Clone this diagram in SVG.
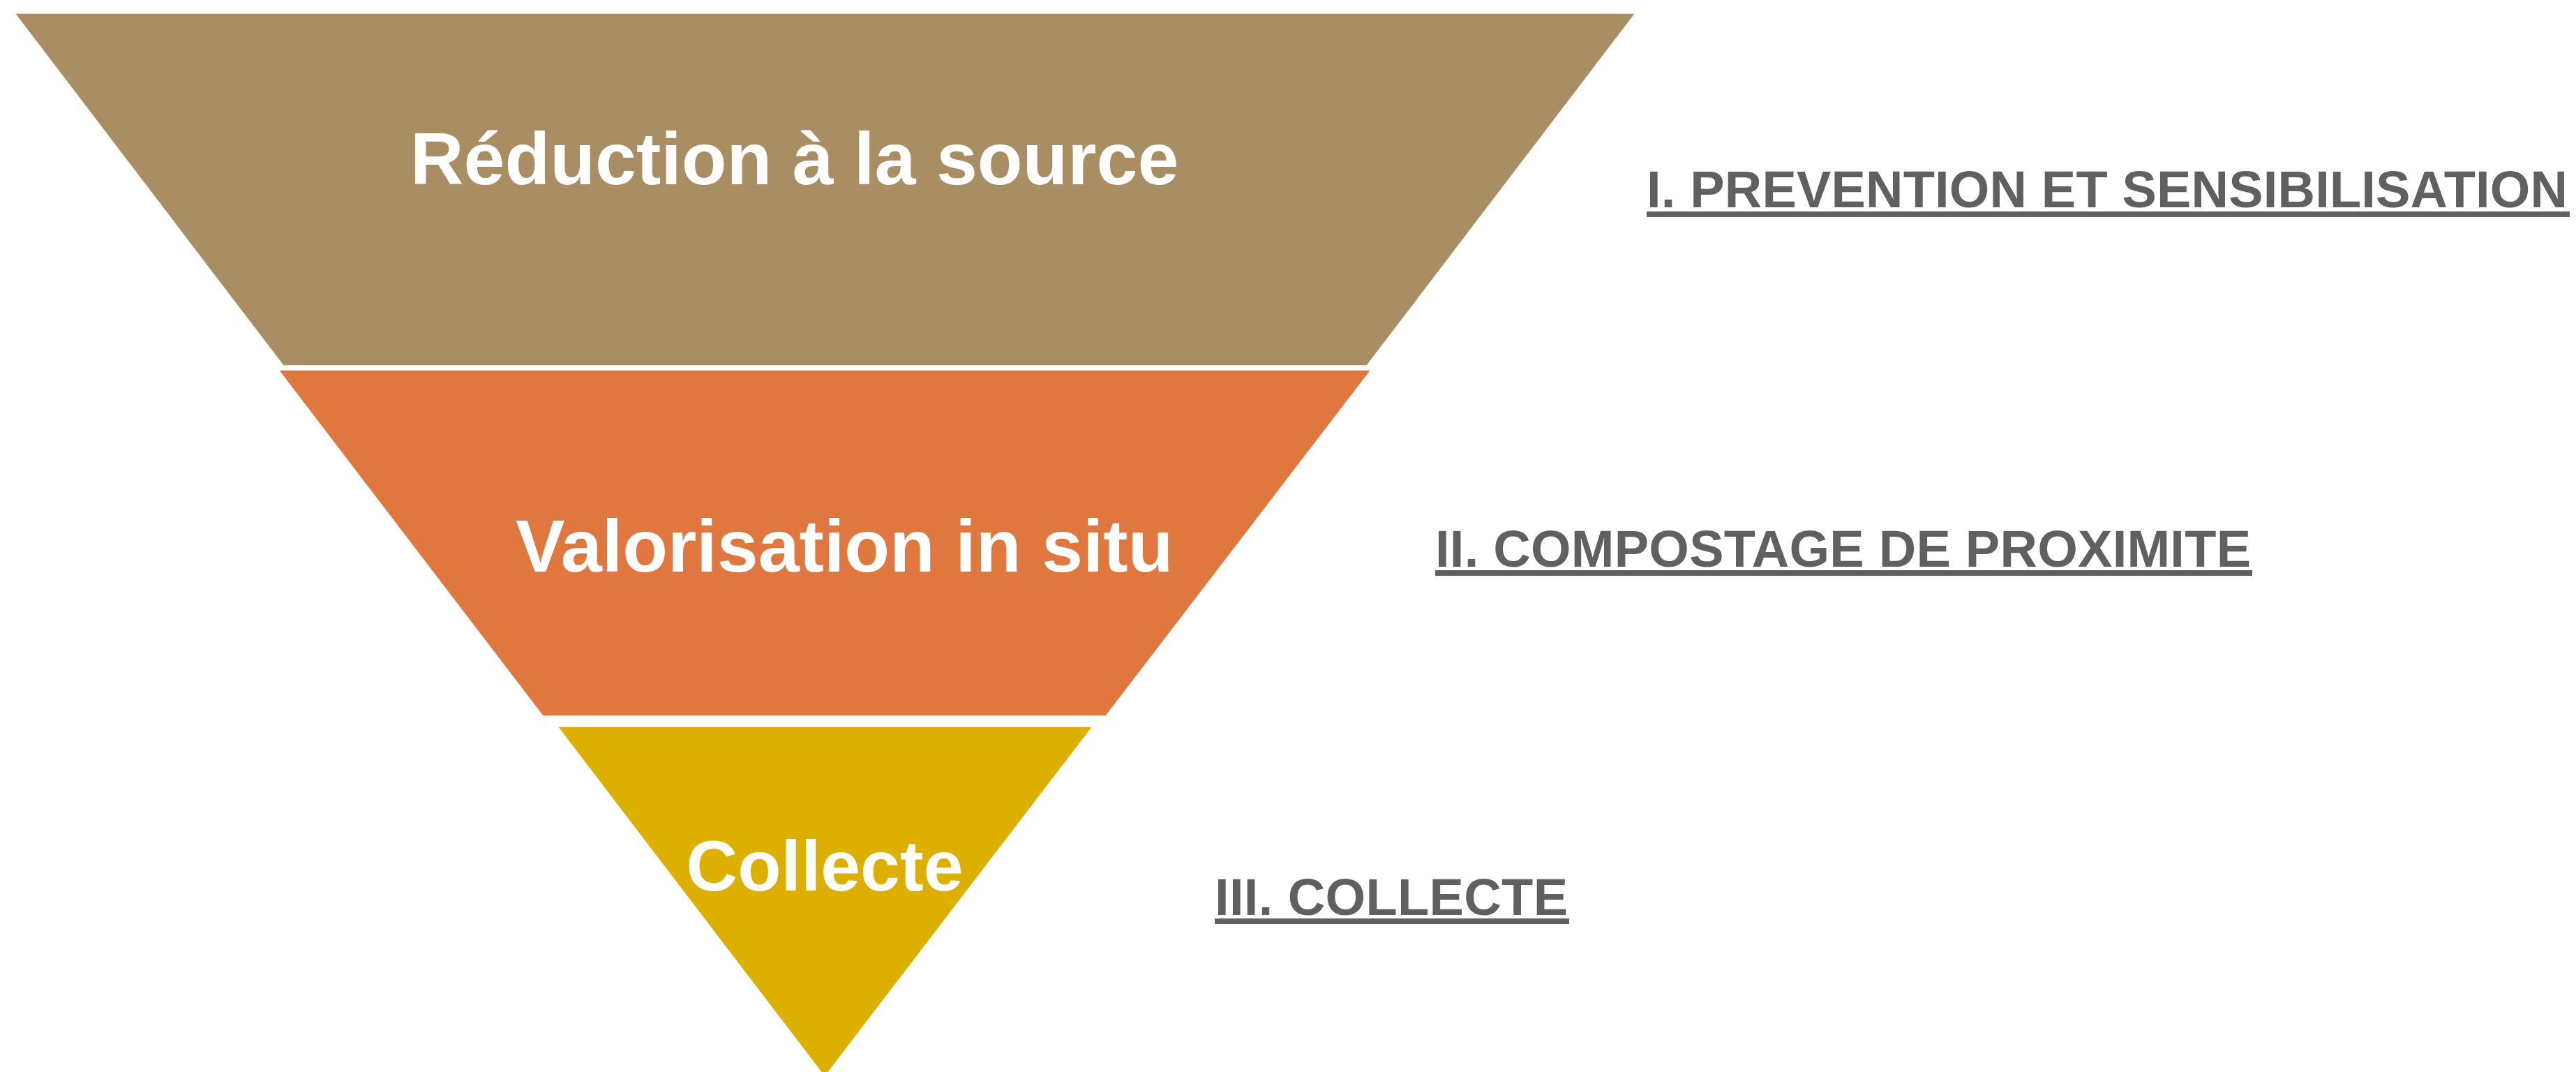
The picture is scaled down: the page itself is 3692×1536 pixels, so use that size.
<svg xmlns="http://www.w3.org/2000/svg" width="3692" height="1536" viewBox="0 0 3692 1536">
<style>
.lvl{stroke:#ffffff;stroke-width:1.5}
.inner{font-family:"Liberation Sans",Arial,sans-serif;font-weight:bold;fill:#ffffff}
.side{font-family:"Liberation Sans",Arial,sans-serif;font-weight:bold;font-size:74px;fill:#606060}
.ul{fill:#606060}
</style>
<rect width="3692" height="1536" fill="#ffffff"/>
<g id="level1">
<polygon class="lvl" fill="#A98D63" points="21,19 2344,19 1959,524 406,524"/>
<text class="inner" x="588" y="264" font-size="106">Réduction à la source</text>
</g>
<g id="level2">
<polygon class="lvl" fill="#E0773F" points="399,530 1965,530 1585,1026 778,1026"/>
<text class="inner" x="739" y="819" font-size="106">Valorisation in situ</text>
</g>
<g id="level3">
<polygon class="lvl" fill="#DDB000" points="799,1041 1566,1041 1182,1543"/>
<text class="inner" x="1182" y="1276" font-size="102" text-anchor="middle">Collecte</text>
</g>
<g id="label1">
<text class="side" x="2360" y="297" textLength="1320" lengthAdjust="spacing">I. PREVENTION ET SENSIBILISATION</text>
<rect class="ul" x="2360" y="303" width="1323" height="8"/>
</g>
<g id="label2">
<text class="side" x="2057" y="812" textLength="1169" lengthAdjust="spacing">II. COMPOSTAGE DE PROXIMITE</text>
<rect class="ul" x="2057" y="817" width="1171" height="8"/>
</g>
<g id="label3">
<text class="side" x="1741" y="1311" textLength="506" lengthAdjust="spacing">III. COLLECTE</text>
<rect class="ul" x="1741" y="1316" width="508" height="8"/>
</g>
</svg>
